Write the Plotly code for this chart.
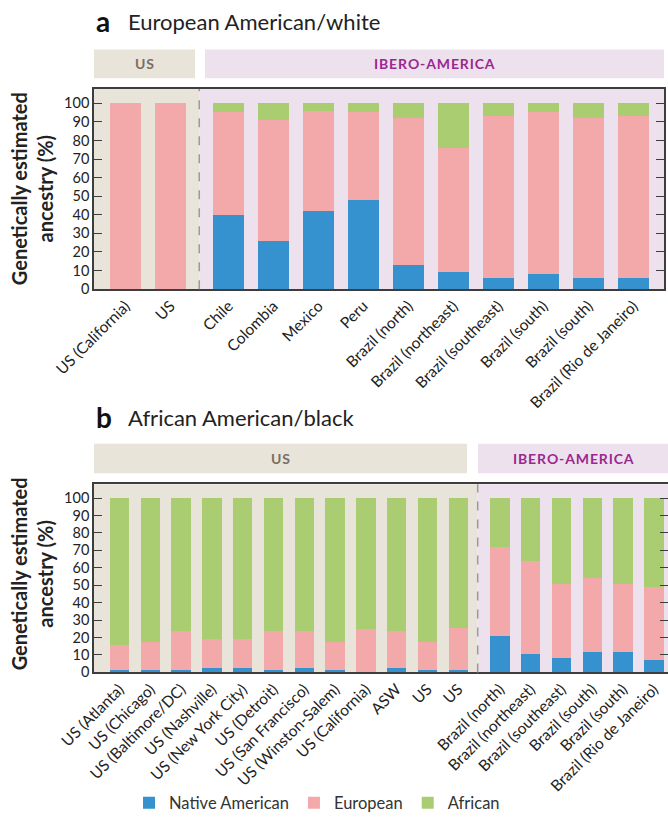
import plotly.graph_objects as go

W, H = 668, 821

# ---- Panel a: European American / white ----
a_labels = ["US (California)", "US", "Chile", "Colombia", "Mexico", "Peru",
            "Brazil (north)", "Brazil (northeast)", "Brazil (southeast)",
            "Brazil (south)", "Brazil (south)", "Brazil (Rio de Janeiro)"]
a_native = [0, 0, 40, 26, 42, 48, 13, 9, 6, 8, 6, 6]
a_european = [100, 100, 55, 65, 53.5, 47, 79, 67, 87, 87, 86, 87]
a_african = [0, 0, 5, 9, 4.5, 5, 8, 24, 7, 5, 8, 7]
a_n_us = 2  # first bars belong to the US group

# ---- Panel b: African American / black ----
b_labels = ["US (Atlanta)", "US (Chicago)", "US (Baltimore/DC)", "US (Nashville)",
            "US (New York City)", "US (Detroit)", "US (San Francisco)",
            "US (Winston-Salem)", "US (California)", "ASW", "US", "US",
            "Brazil (north)", "Brazil (northeast)", "Brazil (southeast)",
            "Brazil (south)", "Brazil (south)", "Brazil (Rio de Janeiro)"]
b_native = [1.5, 1.5, 1.5, 2.5, 2.5, 1.5, 2.5, 1.5, 0, 2.5, 1.5, 1.5,
            20.5, 10.5, 8, 11.5, 11.5, 7]
b_european = [14, 16, 22, 16.5, 16.5, 22, 21, 16, 24.5, 21, 16, 24,
              51.5, 53.5, 42.5, 42.5, 39, 42]
b_african = [84.5, 82.5, 76.5, 81, 81, 76.5, 76.5, 82.5, 75.5, 76.5, 82.5, 74.5,
             28, 36, 49.5, 46, 49.5, 51]
b_n_us = 12

ancestries = ["Native American", "European", "African"]
colors = {"Native American": "#3691CF", "European": "#F3A9A9", "African": "#ABCD72"}

BEIGE = "#E8E4DA"
LILAC = "#EEE1EE"
US_TXT = "#7A6E62"
IB_TXT = "#9B2891"
FONT = "Lato"


def px(x):
    return x / W


def py(y):
    return 1 - y / H


def positions(n, n_us, gap):
    return [i + (gap if i >= n_us else 0) for i in range(n)]


fig = go.Figure()

panels = [
    dict(labels=a_labels, vals=[a_native, a_european, a_african], n_us=a_n_us,
         gap=0.29, width=0.69, xr=[-0.70, 11.97], divider=1.64,
         xdom=[px(94), px(664)], ydom=[py(292), py(90)], yr=[0, 107.6],
         xa="x", ya="y", legend=True),
    dict(labels=b_labels, vals=[b_native, b_european, b_african], n_us=b_n_us,
         gap=0.35, width=0.63, xr=[-0.83, 17.81], divider=11.63,
         xdom=[px(94), 1.0], ydom=[py(679), py(489)], yr=[0, 107.9],
         xa="x2", ya="y2", legend=False),
]

shapes = []
annotations = []

for k, p in enumerate(panels):
    xs = positions(len(p["labels"]), p["n_us"], p["gap"])
    for name, v in zip(ancestries, p["vals"]):
        fig.add_trace(go.Bar(
            x=xs, y=v, name=name, width=p["width"],
            marker=dict(color=colors[name], line=dict(width=0)),
            xaxis=p["xa"], yaxis=p["ya"], legendgroup=name,
            showlegend=p["legend"], hoverinfo="skip"))

    suffix = "" if k == 0 else "2"
    axis_common = dict(showline=True, mirror=True, linecolor="#3d3d3d",
                       linewidth=1.5, showgrid=False, zeroline=False,
                       automargin=False, fixedrange=True)
    fig.update_layout(**{
        "xaxis" + suffix: dict(
            domain=p["xdom"], range=p["xr"], anchor=p["ya"],
            tickmode="array", tickvals=xs, ticktext=p["labels"],
            tickangle=-45, ticks="", tickfont=dict(size=15.5, color="#222", family=FONT),
            **axis_common),
        "yaxis" + suffix: dict(
            domain=p["ydom"], range=p["yr"], anchor=p["xa"],
            tickmode="array", tickvals=list(range(0, 101, 10)),
            ticks="inside", ticklen=8, tickwidth=1.3, tickcolor="#3d3d3d",
            tickfont=dict(size=14.5, color="#222", family=FONT),
            **{**axis_common, "mirror": "ticks"}),
    })

    xref = p["xa"]
    yref = p["ya"] + " domain"
    # shaded group regions inside the plot
    shapes.append(dict(type="rect", xref=xref, yref=yref, x0=p["xr"][0], x1=p["divider"],
                       y0=0, y1=1, fillcolor=BEIGE, line=dict(width=0), layer="below"))
    shapes.append(dict(type="rect", xref=xref, yref=yref, x0=p["divider"], x1=p["xr"][1],
                       y0=0, y1=1, fillcolor=LILAC, line=dict(width=0), layer="below"))
    # dashed divider between groups
    shapes.append(dict(type="line", xref=xref, yref=yref, x0=p["divider"], x1=p["divider"],
                       y0=0, y1=1, line=dict(color="#9a9a9a", width=1.5, dash="dash")))

# group header bands
bands = [
    (94, 195, 50, 79, BEIGE, "US", US_TXT),
    (205, 664, 50, 79, LILAC, "IBERO-AMERICA", IB_TXT),
    (94, 467, 448, 478, BEIGE, "US", US_TXT),
    (478, 668, 448, 478, LILAC, "IBERO-AMERICA", IB_TXT),
]
for x0, x1, y0, y1, fill, label, tc in bands:
    shapes.append(dict(type="rect", xref="paper", yref="paper",
                       x0=px(x0), x1=px(x1), y0=py(y1), y1=py(y0),
                       fillcolor=fill, line=dict(width=0), layer="below"))
    annotations.append(dict(xref="paper", yref="paper", x=px((x0 + x1) / 2),
                            y=py((y0 + y1) / 2), text="<b>" + "\u200a".join(label) + "</b>",
                            showarrow=False, xanchor="center", yanchor="middle",
                            font=dict(size=14, color=tc, family=FONT)))

# panel titles
for letter, title, yc in [("a", "European American/white", 21),
                          ("b", "African American/black", 421)]:
    annotations.append(dict(xref="paper", yref="paper", x=px(94), y=py(yc),
                            text="<b>" + letter + "</b>", showarrow=False,
                            xanchor="left", yanchor="middle",
                            font=dict(size=28, color="#111", family=FONT)))
    annotations.append(dict(xref="paper", yref="paper", x=px(126), y=py(yc + 1),
                            text=title, showarrow=False,
                            xanchor="left", yanchor="middle",
                            font=dict(size=22, color="#222", family=FONT)))

# y-axis titles
for yc in [(90 + 292) / 2, (489 + 679) / 2 - 4]:
    annotations.append(dict(xref="paper", yref="paper", x=px(32), y=py(yc),
                            text="<b>Genetically estimated<br>ancestry (%)</b>",
                            showarrow=False, textangle=-90,
                            xanchor="center", yanchor="middle",
                            font=dict(size=20, color="#222", family=FONT)))

fig.update_layout(
    width=W, height=H, autosize=False,
    margin=dict(l=0, r=0, t=0, b=0),
    paper_bgcolor="white", plot_bgcolor="rgba(0,0,0,0)",
    barmode="stack", bargap=0,
    font=dict(family=FONT, color="#222"),
    shapes=shapes, annotations=annotations,
    legend=dict(orientation="h", x=px(317), xanchor="center",
                y=py(811), yanchor="middle", traceorder="normal",
                font=dict(size=16.5, color="#333", family=FONT),
                itemwidth=30, bgcolor="rgba(0,0,0,0)"),
)

fig.write_html("out.html")
